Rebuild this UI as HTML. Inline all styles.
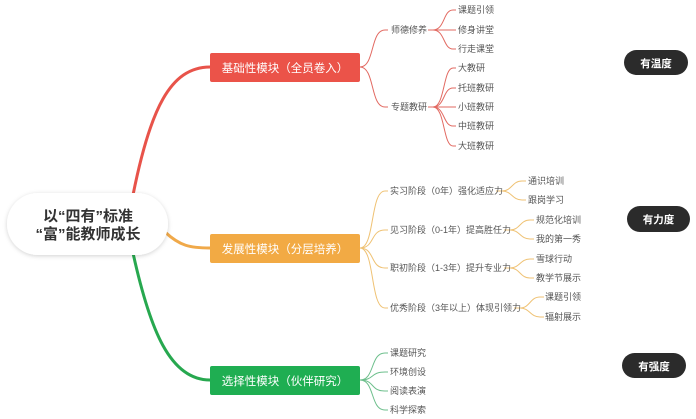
<!DOCTYPE html>
<html><head><meta charset="utf-8"><style>
html,body{margin:0;padding:0;background:#fff;}
svg text{font-family:"Liberation Sans","Noto Sans CJK SC",sans-serif;}
</style></head><body>
<svg width="696" height="414" viewBox="0 0 696 414" xmlns="http://www.w3.org/2000/svg">
<defs><filter id="sh" x="-20%" y="-30%" width="140%" height="160%"><feDropShadow dx="0" dy="1" stdDeviation="2" flood-color="#000" flood-opacity="0.18"/></filter></defs>
<!-- main connectors -->
<path d="M133 195 C150 110,170 67,210 67" stroke="#e8534a" stroke-width="3" fill="none"/>
<path d="M165 232 C180 246,190 248,210 248" stroke="#f0a94a" stroke-width="3" fill="none"/>
<path d="M133 253 C150 330,170 380,210 380" stroke="#27a84f" stroke-width="3" fill="none"/>
<!-- center node -->
<rect x="7" y="193" width="161" height="62" rx="31" fill="#fff" filter="url(#sh)"/>
<text x="88" y="221" font-size="15" font-weight="bold" fill="#333" text-anchor="middle">以“四有”标准</text>
<text x="88" y="239" font-size="15" font-weight="bold" fill="#333" text-anchor="middle">“富”能教师成长</text>
<!-- module boxes -->
<rect x="210" y="53" width="150" height="29" rx="2" fill="#eb5349"/>
<text x="285" y="72" font-size="11.5" fill="#fff" text-anchor="middle">基础性模块（全员卷入）</text>
<rect x="210" y="234" width="150" height="29" rx="2" fill="#f2aa44"/>
<text x="285" y="253" font-size="11.5" fill="#fff" text-anchor="middle">发展性模块（分层培养）</text>
<rect x="210" y="366" width="150" height="29" rx="2" fill="#1fae52"/>
<text x="285" y="385" font-size="11.5" fill="#fff" text-anchor="middle">选择性模块（伙伴研究）</text>
<!-- red branches -->
<g stroke="#e26a62" stroke-width="1" fill="none">
<path d="M360 67 C375 67,370 30,385 30 L388 30"/>
<path d="M360 67 C375 67,370 107,385 107 L388 107"/>
<path d="M428 30 L433 30 C445 30,443 10,453 10 L456 10"/>
<path d="M433 30 L456 30"/>
<path d="M433 30 C445 30,443 49,453 49 L456 49"/>
<path d="M428 107 L433 107 C445 107,443 68,453 68 L456 68"/>
<path d="M433 107 C445 107,443 88,453 88 L456 88"/>
<path d="M433 107 L456 107"/>
<path d="M433 107 C445 107,443 126,453 126 L456 126"/>
<path d="M433 107 C445 107,443 146,453 146 L456 146"/>
</g>
<g font-size="9" fill="#555">
<text x="391" y="33">师德修养</text>
<text x="391" y="110">专题教研</text>
<text x="458" y="13">课题引领</text>
<text x="458" y="33">修身讲堂</text>
<text x="458" y="52">行走课堂</text>
<text x="458" y="71">大教研</text>
<text x="458" y="91">托班教研</text>
<text x="458" y="110">小班教研</text>
<text x="458" y="129">中班教研</text>
<text x="458" y="149">大班教研</text>
</g>
<!-- orange branches -->
<g stroke="#efc274" stroke-width="1" fill="none">
<path d="M360 248 C375 248,370 191,385 191 L388 191"/>
<path d="M360 248 C375 248,370 230,385 230 L388 230"/>
<path d="M360 248 C375 248,370 268,385 268 L388 268"/>
<path d="M360 248 C375 248,370 308,385 308 L388 308"/>
<path d="M496 191 L502 191 C512 191,512 181,522 181 L526 181"/>
<path d="M502 191 C512 191,512 200,522 200 L526 200"/>
<path d="M504 230 L510 230 C520 230,520 220,530 220 L534 220"/>
<path d="M510 230 C520 230,520 239,530 239 L534 239"/>
<path d="M504 268 L510 268 C520 268,520 259,530 259 L534 259"/>
<path d="M510 268 C520 268,520 278,530 278 L534 278"/>
<path d="M514 308 L520 308 C530 308,530 297,540 297 L544 297"/>
<path d="M520 308 C530 308,530 317,540 317 L544 317"/>
</g>
<g font-size="9" fill="#555">
<text x="390" y="194">实习阶段（0年）强化适应力</text>
<text x="390" y="233">见习阶段（0-1年）提高胜任力</text>
<text x="390" y="271">职初阶段（1-3年）提升专业力</text>
<text x="390" y="311">优秀阶段（3年以上）体现引领力</text>
<text x="528" y="184">通识培训</text>
<text x="528" y="203">跟岗学习</text>
<text x="536" y="223">规范化培训</text>
<text x="536" y="242">我的第一秀</text>
<text x="536" y="262">雪球行动</text>
<text x="536" y="281">教学节展示</text>
<text x="545" y="300">课题引领</text>
<text x="545" y="320">辐射展示</text>
</g>
<!-- green branches -->
<g stroke="#6dbf8c" stroke-width="1" fill="none">
<path d="M360 380 C375 380,370 353,385 353 L388 353"/>
<path d="M360 380 C375 380,370 372,385 372 L388 372"/>
<path d="M360 380 C375 380,370 391,385 391 L388 391"/>
<path d="M360 380 C375 380,370 410,385 410 L388 410"/>
</g>
<g font-size="9" fill="#555">
<text x="390" y="356">课题研究</text>
<text x="390" y="375">环境创设</text>
<text x="390" y="394">阅读表演</text>
<text x="390" y="413">科学探索</text>
</g>
<!-- pills -->
<rect x="624" y="50" width="64" height="25" rx="12.5" fill="#2b2b2b"/>
<text x="656" y="67" font-size="10.5" font-weight="bold" fill="#fff" text-anchor="middle">有温度</text>
<rect x="627" y="206" width="63" height="26" rx="13" fill="#2b2b2b"/>
<text x="658.5" y="223" font-size="10.5" font-weight="bold" fill="#fff" text-anchor="middle">有力度</text>
<rect x="622" y="353" width="64" height="25" rx="12.5" fill="#2b2b2b"/>
<text x="654" y="370" font-size="10.5" font-weight="bold" fill="#fff" text-anchor="middle">有强度</text>
</svg>
</body></html>
